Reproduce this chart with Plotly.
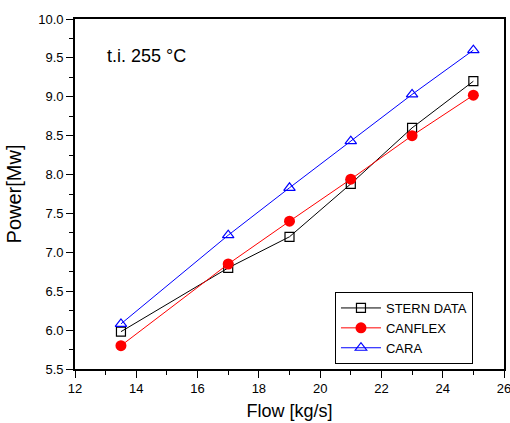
import plotly.graph_objects as go

flow = [13.5, 17, 19, 21, 23, 25]
stern = [5.98, 6.80, 7.20, 7.88, 8.60, 9.20]
canflex = [5.80, 6.85, 7.40, 7.94, 8.50, 9.02]
cara = [6.08, 7.22, 7.83, 8.43, 9.03, 9.60]

FONT = "Liberation Sans, Arial"

fig = go.Figure()
fig.add_trace(go.Scatter(x=flow, y=stern, name="STERN DATA", mode="lines+markers",
                         line=dict(color="black", width=1),
                         marker=dict(symbol="square-open", size=9, color="black", line=dict(width=1.2))))
fig.add_trace(go.Scatter(x=flow, y=canflex, name="CANFLEX", mode="lines+markers",
                         line=dict(color="red", width=1),
                         marker=dict(symbol="circle", size=11, color="red")))
fig.add_trace(go.Scatter(x=flow, y=cara, name="CARA", mode="lines+markers",
                         line=dict(color="blue", width=1),
                         marker=dict(symbol="triangle-up-open", size=10, color="blue", line=dict(width=1.2))))

axis_common = dict(showline=True, linecolor="black", linewidth=1.6, mirror=True,
                   ticks="outside", ticklen=7, tickwidth=1.2, tickcolor="black",
                   showgrid=False, zeroline=False, automargin=False,
                   ticklabeloverflow="allow",
                   tickfont=dict(family=FONT, size=13, color="black"))

fig.update_xaxes(range=[12, 26], dtick=2, tick0=12,
                 minor=dict(dtick=1, ticks="outside", ticklen=4, tickcolor="black", tickwidth=1.2),
                 title=dict(text="Flow [kg/s]", font=dict(family=FONT, size=18, color="black"), standoff=9),
                 **axis_common)
fig.update_yaxes(range=[5.5, 10.0], dtick=0.5, tick0=5.5, tickformat=".1f",
                 minor=dict(dtick=0.25, ticks="outside", ticklen=4, tickcolor="black", tickwidth=1.2),
                 title=dict(text="Power[Mw]", font=dict(family=FONT, size=20, color="black"), standoff=11),
                 **axis_common)

fig.add_annotation(text="t.i. 255 °C", x=0.07, y=0.895, xref="paper", yref="paper",
                   xanchor="left", yanchor="middle", showarrow=False,
                   font=dict(family=FONT, size=18, color="black"))

fig.update_layout(width=510, height=423, autosize=False, plot_bgcolor="white", paper_bgcolor="white",
                  margin=dict(l=75, r=6, t=19, b=54),
                  legend=dict(x=0.606, y=0.22, xanchor="left", yanchor="top",
                              bordercolor="black", borderwidth=1, bgcolor="white",
                              font=dict(family=FONT, size=13, color="black"),
                              tracegroupgap=0, itemwidth=40))

post = ("document.body.style.margin='0';document.body.style.padding='0';"
        "document.body.style.overflow='hidden';"
        "Plotly.relayout('{plot_id}', {width:510, height:423});")

fig.write_html("out.html", config={"responsive": False, "displayModeBar": False}, post_script=post)
